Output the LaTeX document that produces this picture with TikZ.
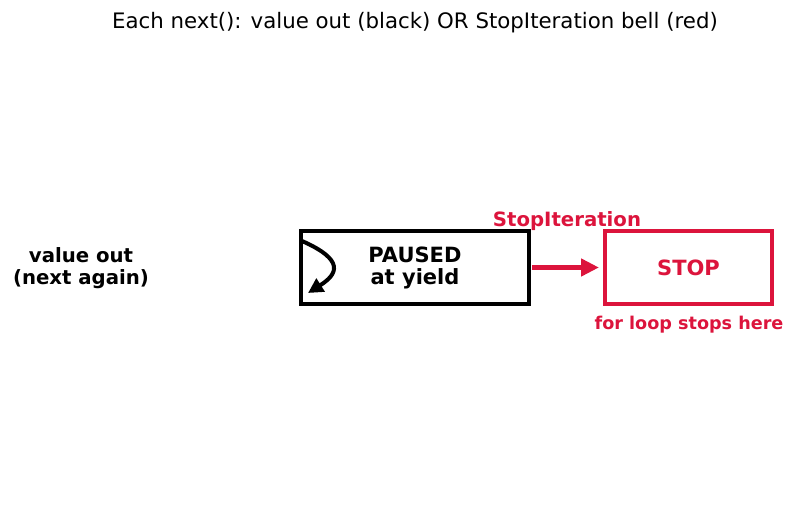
\documentclass[tikz,border=0pt]{standalone}
\usepackage{fontspec}
\setmainfont{DejaVu Sans}
\usetikzlibrary{arrows.meta,positioning,calc}
\definecolor{bellred}{RGB}{220,20,60}

\begin{document}
\begin{tikzpicture}[
    x=1pt, y=-1pt,
    box/.style={rectangle, draw=black, line width=4pt, fill=white,
                minimum height=73pt, align=center,
                font=\fontsize{21}{22}\selectfont\bfseries},
    stopbox/.style={box, draw=bellred, text=bellred},
    lbl/.style={align=center, font=\fontsize{19.7}{22}\selectfont\bfseries},
    arr/.style={-{Triangle[length=18pt,width=17pt]}, line width=4.5pt}
]
\useasboundingbox (0,0) rectangle (809,508);

\node[font=\fontsize{21.3}{24}\selectfont] (title) at (415,23) {Each next(): value out (black) OR StopIteration bell (red)};

\node[box, minimum width=228pt] (paused) at (415,267.5) {PAUSED\\at yield};
\node[stopbox, minimum width=167pt] (stop) at (688.5,267.5) {STOP};

\node[lbl] (valueout) at (81,268) {value out\\(next again)};
\node[lbl, text=bellred] (stopit) at (567,221) {StopIteration};
\node[lbl, text=bellred, font=\fontsize{17.6}{20}\selectfont\bfseries] (forloop) at (689,325) {for loop stops here};

% next() loops back to the same yield
\coordinate (loopa) at (302,241);
\coordinate (loopb) at (308,293);
\draw[arr, line width=4pt, -{Triangle[length=15pt,width=15pt]}] (loopa) .. controls (345,260) and (338,274) .. (loopb);

\draw[arr, draw=bellred, fill=bellred, shorten <=1pt, shorten >=4pt] (paused.east) -- (stop.west);
\end{tikzpicture}
\end{document}
